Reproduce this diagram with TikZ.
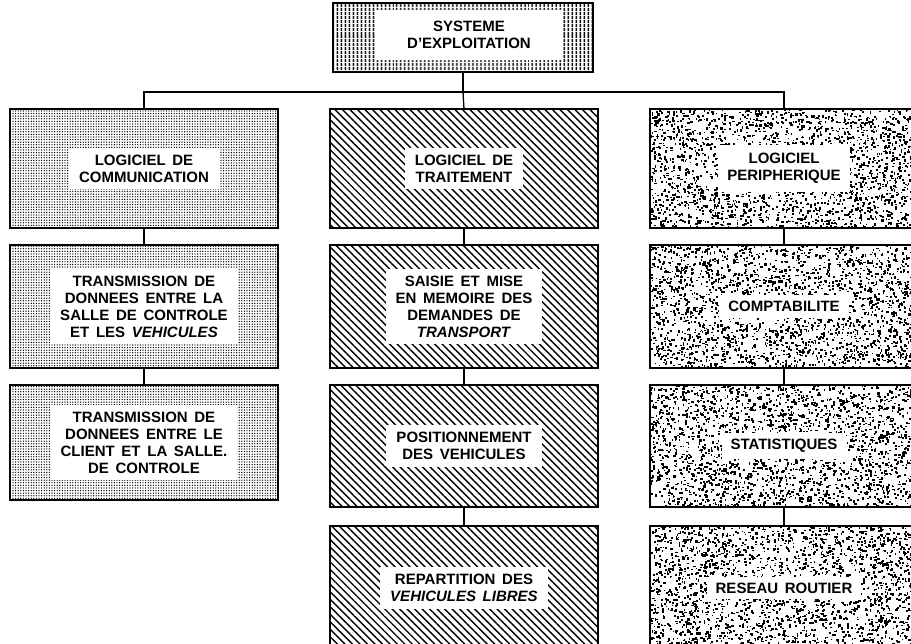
\documentclass[tikz,border=0pt]{standalone}
\usepackage{fontspec}
\setmainfont{Liberation Sans}[WordSpace=1.6]
\usepackage{tikz}
\usetikzlibrary{positioning,patterns,patterns.meta}

\begin{document}
\begin{tikzpicture}[x=1pt, y=-1pt, node distance=17pt,
  font=\fontsize{15}{17}\selectfont\bfseries,
  boite/.style={draw, line width=1.8pt, minimum width=268pt, inner sep=0pt, outer sep=0pt},
  pointille/.style={pattern={Dots[distance=2.6pt, radius=0.7pt]}},
  hachure/.style={pattern={Lines[angle=-45, distance=5.3pt, line width=1.4pt]}},
  barres/.style={pattern={Lines[angle=90, distance=4pt, line width=2pt]}},
  tachete/.style={fill=white},
  etiq/.style={fill=white, align=center, inner xsep=10pt, inner ysep=7pt},
  etiqR/.style={etiq, inner xsep=9pt, inner ysep=6pt},
  lien/.style={line width=1.3pt}]
  \useasboundingbox (0,0) rectangle (911,644);
  \clip (0,0) rectangle (911,644);
  % tete
  \node[boite, barres, minimum width=260pt, minimum height=69pt, anchor=north] (sys) at (463,3) {};
  \node[fill=white, minimum width=188pt, minimum height=50pt, align=center, inner sep=0pt] (sysTxt) at (469,35) {SYSTEME\\D'EXPLOITATION};
  % colonnes
  \node[boite, pointille, minimum height=119pt, anchor=north] (l1) at (144,109) {};
  \node[boite, pointille, minimum height=123pt, below=of l1] (l2) {};
  \node[boite, pointille, minimum height=115pt, below=of l2] (l3) {};
  \node[boite, hachure, minimum height=119pt, anchor=north] (m1) at (464,109) {};
  \node[boite, hachure, minimum height=123pt, below=of m1] (m2) {};
  \node[boite, hachure, minimum height=122pt, below=of m2] (m3) {};
  \node[boite, hachure, minimum height=124pt, below=19pt of m3] (m4) {};
  \node[boite, tachete, minimum height=119pt, anchor=north] (r1) at (784,109) {};
  \node[boite, tachete, minimum height=123pt, below=of r1] (r2) {};
  \node[boite, tachete, minimum height=122pt, below=of r2] (r3) {};
  \node[boite, tachete, minimum height=124pt, below=19pt of r3] (r4) {};
  % grain irregulier de la colonne de droite
  \pgfmathsetseed{4711}
  \foreach \yt/\yb/\nb in {109/228/2300, 245/368/2350, 385/507/2350, 526/644/2250} {
    \begin{scope}
      \clip (650,\yt) rectangle (911,\yb);
      \foreach \k in {1,...,\nb}
        \fill ({650+262*rnd},{\yt+(\yb-\yt)*rnd}) rectangle ++({1.1+1.5*rnd},{1.1+1.5*rnd});
    \end{scope}
  }
  \foreach \n in {r1,r2,r3,r4}
    \draw[line width=1.8pt] (\n.north west) rectangle (\n.south east);
  % textes
  \node[etiq] (tl1) at (l1) {LOGICIEL DE\\COMMUNICATION};
  \node[etiq] (tl2) at (l2) {TRANSMISSION DE\\DONNEES ENTRE LA\\SALLE DE CONTROLE\\ET LES \textit{VEHICULES}};
  \node[etiq] (tl3) at (l3) {TRANSMISSION DE\\DONNEES ENTRE LE\\CLIENT ET LA SALLE.\\DE CONTROLE};
  \node[etiq] (tm1) at (m1) {LOGICIEL DE\\TRAITEMENT};
  \node[etiq] (tm2) at (m2) {SAISIE ET MISE\\EN MEMOIRE DES\\DEMANDES DE\\\textit{TRANSPORT}};
  \node[etiq] (tm3) at (m3) {POSITIONNEMENT\\DES VEHICULES};
  \node[etiq] (tm4) at (m4) {REPARTITION DES\\\textit{VEHICULES LIBRES}};
  \node[etiqR, inner ysep=8pt] (tr1) at (r1) {LOGICIEL\\PERIPHERIQUE};
  \node[etiqR] (tr2) at (r2) {COMPTABILITE};
  \node[etiqR] (tr3) at (r3) {STATISTIQUES};
  \node[etiqR] (tr4) at (r4) {RESEAU ROUTIER};
  % liaisons
  \coordinate (bus) at (sys.south |- 0,92);
  \draw[lien] (sys.south) -- (bus);
  \draw[lien] (l1.north) |- (bus) -| (r1.north);
  \draw[lien] (bus) -- (m1.north);
  \draw[lien] (l1) -- (l2); \draw[lien] (l2) -- (l3);
  \draw[lien] (m1) -- (m2); \draw[lien] (m2) -- (m3); \draw[lien] (m3) -- (m4);
  \draw[lien] (r1) -- (r2); \draw[lien] (r2) -- (r3); \draw[lien] (r3) -- (r4);
\end{tikzpicture}
\end{document}
